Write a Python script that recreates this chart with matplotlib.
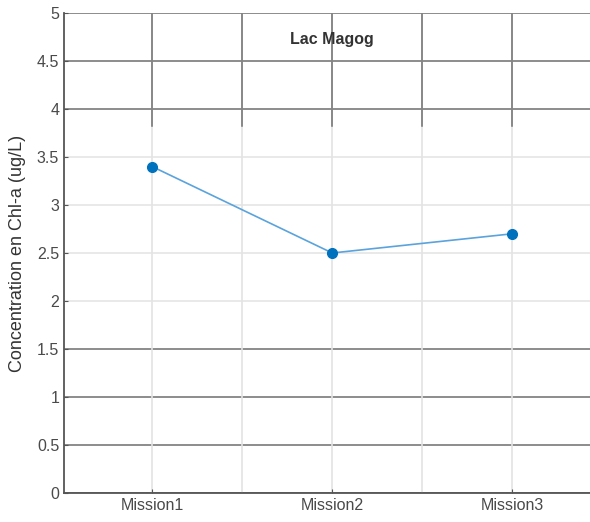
import numpy as np
import matplotlib
matplotlib.use('Agg')
import matplotlib.pyplot as plt

plt.rcParams['font.family'] = ['Liberation Sans', 'DejaVu Sans']

missions = ['Mission1', 'Mission2', 'Mission3']
chla = [3.4, 2.5, 2.7]
yticks = [0, 0.5, 1, 1.5, 2, 2.5, 3, 3.5, 4, 4.5, 5]
ytick_labels = ['0', '0.5', '1', '1.5', '2', '2.5', '3', '3.5', '4', '4.5', '5']
dark_rows = [0, 0.5, 1, 1.5, 4, 4.5, 5]

fig = plt.figure(figsize=(5.9, 5.22), dpi=100)
ax = fig.add_axes([0.1085, 0.0556, 0.8915, 0.9195])

x = np.arange(1, len(missions) + 1)
xgrid = np.arange(1, 3.51, 0.5)

# grid: light everywhere, darker in the upper band
for yv in yticks:
    c = '#6e6e6e' if yv in dark_rows else '#e3e3e3'
    ax.axhline(yv, color=c, lw=1.1, zorder=1)
for xv in xgrid:
    ax.axvline(xv, color='#e3e3e3', lw=1.2, zorder=1)
    ax.axvline(xv, ymin=3.82 / 5, ymax=1, color='#6e6e6e', lw=1.1, zorder=1)

ax.plot(x, chla, '-', color='#5aa3dc', lw=1.2, zorder=3)
ax.plot(x, chla, 'o', color='#0072BD', ms=7, zorder=4)

ax.set_xlim(0.51, 3.432)
ax.set_ylim(0, 5)
ax.set_xticks(x)
ax.set_xticklabels(missions)
ax.set_yticks(yticks)
ax.set_yticklabels(ytick_labels)
ax.tick_params(direction='in', length=3, colors='#555555', labelsize=11.5,
               labelcolor='#4a4a4a')

for s in ['top', 'right']:
    ax.spines[s].set_visible(False)
for s in ['left', 'bottom']:
    ax.spines[s].set_color('#555555')
    ax.spines[s].set_linewidth(1.3)

ax.set_ylabel('Concentration en Chl-a (ug/L)', fontsize=13, color='#333333', labelpad=8)
ax.text(2.0, 4.72, 'Lac Magog', ha='center', va='center', fontsize=11.5,
        fontweight='bold', color='#333333')

plt.savefig('out.png', dpi=100)
